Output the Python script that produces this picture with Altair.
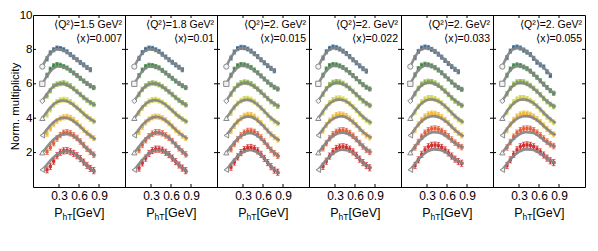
import altair as alt
import pandas as pd

# ---------------- data ----------------
SERIES = ["s7", "s6", "s5", "s4", "s3", "s2", "s1"]
COLORS = ["#35658f", "#3a8a3e", "#84b23a", "#d0d243", "#efb838", "#e45e38", "#d22f2f"]
SHAPES = ["circle", "square", "diamond", "triangle-up", "triangle-left", "triangle-up", "triangle-left"]
ERR = [0.12, 0.12, 0.13, 0.14, 0.15, 0.16, 0.18]

Q2_VALUES = ["1.5", "1.8", "2.", "2.", "2.", "2."]
X_VALUES = ["0.007", "0.01", "0.015", "0.022", "0.033", "0.055"]

X_TICKS = [0.3, 0.6, 0.9]
Y_TICKS = [2, 4, 6, 8, 10]

# model curve abscissae and data abscissae (P_hT in GeV)
CX = [0.05, 0.1, 0.15, 0.2, 0.25, 0.3, 0.35, 0.4, 0.5, 0.6, 0.7, 0.78, 0.85]
DX = [0.12, 0.17, 0.22, 0.27, 0.32, 0.37, 0.42, 0.47, 0.52, 0.57, 0.62, 0.67, 0.72, 0.77, 0.82]

CURVE_P1 = [
    [7.0, 7.38, 7.68, 7.88, 7.99, 8.02, 7.97, 7.88, 7.6, 7.3, 7.02, 6.78, None],
    [6.0, 6.33, 6.62, 6.84, 6.97, 7.02, 7.0, 6.93, 6.68, 6.38, 6.08, 5.88, 5.74],
    [5.0, 5.3, 5.57, 5.78, 5.92, 5.99, 6.0, 5.96, 5.74, 5.43, 5.12, 4.9, 4.75],
    [4.0, 4.27, 4.53, 4.74, 4.9, 4.99, 5.03, 5.01, 4.82, 4.5, 4.15, 3.93, 3.77],
    [3.0, 3.25, 3.5, 3.7, 3.86, 3.96, 4.02, 4.03, 3.88, 3.57, 3.2, 2.96, 2.76],
    [2.0, 2.24, 2.48, 2.69, 2.86, 2.98, 3.06, 3.1, 3.0, 2.7, 2.3, 2.02, 1.8],
    [1.0, 1.22, 1.45, 1.66, 1.83, 1.96, 2.04, 2.08, 2.0, 1.72, 1.32, 1.05, 0.86],
]
DATA_P1 = [
    [7.45, 7.8, 7.98, 8.08, 8.05, 7.98, 7.86, 7.7, 7.55, 7.4, 7.24, 7.1, 6.95, 6.82, None],
    [6.5, 6.85, 7.05, 7.12, 7.08, 7.0, 6.92, 6.78, 6.63, 6.48, 6.32, 6.16, 6.02, 5.88, 5.78],
    [5.3, 5.6, 5.88, 5.98, 6.02, 6.05, 5.98, 5.88, 5.72, 5.55, 5.38, 5.2, 5.05, 4.9, 4.8],
    [4.2, 4.5, 4.78, 4.95, 5.05, 5.08, 5.05, 4.95, 4.8, 4.62, 4.45, 4.27, 4.1, 3.95, 3.82],
    [3.1, 3.4, 3.65, 3.85, 3.98, 4.05, 4.08, 4.02, 3.9, 3.72, 3.52, 3.33, 3.14, 2.98, 2.84],
    [2.05, 2.3, 2.55, 2.82, 3.02, 3.15, 3.18, 3.12, 3.0, 2.85, 2.65, 2.44, 2.22, 2.05, 1.88],
    [1.0, 1.2, 1.5, 1.82, 2.02, 2.1, 2.12, 2.05, 1.95, 1.82, 1.65, 1.45, 1.25, 1.08, 0.95],
]

CURVE_P2 = [
    [7.0, 7.38, 7.68, 7.88, 7.99, 8.03, 7.98, 7.89, 7.6, 7.3, 7.02, 6.78, None],
    [6.0, 6.33, 6.63, 6.85, 6.98, 7.03, 7.01, 6.94, 6.68, 6.38, 6.08, 5.88, 5.74],
    [5.0, 5.3, 5.58, 5.79, 5.93, 6.0, 6.01, 5.97, 5.75, 5.43, 5.1, 4.88, 4.72],
    [4.0, 4.28, 4.55, 4.76, 4.92, 5.01, 5.05, 5.03, 4.84, 4.51, 4.15, 3.93, 3.77],
    [3.0, 3.26, 3.52, 3.73, 3.89, 4.0, 4.06, 4.07, 3.92, 3.6, 3.22, 2.98, 2.8],
    [2.0, 2.25, 2.5, 2.72, 2.9, 3.03, 3.11, 3.14, 3.04, 2.74, 2.34, 2.04, 1.8],
    [1.0, 1.24, 1.49, 1.71, 1.89, 2.03, 2.11, 2.14, 2.05, 1.76, 1.36, 1.07, 0.85],
]
DATA_P2 = [
    [7.48, 7.82, 8.0, 8.08, 8.06, 7.98, 7.88, 7.72, 7.56, 7.4, 7.25, 7.1, 6.96, 6.82, None],
    [6.48, 6.8, 7.0, 7.08, 7.06, 7.0, 6.93, 6.78, 6.63, 6.47, 6.32, 6.16, 6.02, 5.89, 5.78],
    [5.38, 5.68, 5.88, 6.0, 6.05, 6.02, 5.95, 5.84, 5.7, 5.54, 5.38, 5.2, 5.04, 4.9, 4.78],
    [4.3, 4.6, 4.82, 4.98, 5.06, 5.08, 5.02, 4.92, 4.78, 4.62, 4.44, 4.26, 4.1, 3.95, 3.82],
    [3.2, 3.5, 3.75, 3.93, 4.05, 4.1, 4.08, 4.0, 3.88, 3.7, 3.52, 3.33, 3.15, 2.99, 2.85],
    [2.15, 2.45, 2.72, 2.95, 3.1, 3.18, 3.18, 3.12, 3.0, 2.86, 2.67, 2.46, 2.25, 2.06, 1.9],
    [1.1, 1.4, 1.68, 1.95, 2.12, 2.2, 2.2, 2.14, 2.02, 1.88, 1.68, 1.48, 1.28, 1.1, 0.95],
]

CURVE_P3 = [
    [7.0, 7.4, 7.72, 7.93, 8.05, 8.1, 8.06, 7.95, 7.64, 7.3, 6.98, 6.72, None],
    [6.0, 6.35, 6.66, 6.88, 7.01, 7.06, 7.04, 6.96, 6.68, 6.35, 6.02, 5.8, 5.67],
    [5.0, 5.31, 5.6, 5.82, 5.96, 6.03, 6.04, 5.99, 5.75, 5.4, 5.05, 4.82, 4.68],
    [4.0, 4.28, 4.56, 4.78, 4.94, 5.03, 5.07, 5.05, 4.84, 4.48, 4.08, 3.83, 3.66],
    [3.0, 3.26, 3.52, 3.74, 3.91, 4.02, 4.08, 4.09, 3.92, 3.57, 3.15, 2.88, 2.7],
    [2.0, 2.25, 2.5, 2.72, 2.9, 3.03, 3.11, 3.14, 3.02, 2.7, 2.26, 1.96, 1.74],
    [1.0, 1.24, 1.49, 1.71, 1.89, 2.03, 2.11, 2.15, 2.05, 1.74, 1.28, 0.98, 0.78],
]
DATA_P3 = [
    [7.5, 7.85, 8.05, 8.12, 8.1, 8.02, 7.9, 7.75, 7.58, 7.4, 7.22, 7.05, 6.9, 6.76, None],
    [6.5, 6.85, 7.05, 7.12, 7.1, 7.04, 6.95, 6.8, 6.64, 6.46, 6.28, 6.1, 5.94, 5.8, 5.7],
    [5.4, 5.7, 5.92, 6.05, 6.1, 6.08, 6.0, 5.86, 5.7, 5.52, 5.33, 5.14, 4.96, 4.82, 4.7],
    [4.3, 4.62, 4.86, 5.02, 5.12, 5.14, 5.08, 4.96, 4.8, 4.6, 4.4, 4.18, 3.98, 3.82, 3.7],
    [3.25, 3.55, 3.8, 4.0, 4.14, 4.2, 4.18, 4.08, 3.92, 3.72, 3.5, 3.28, 3.06, 2.9, 2.76],
    [2.2, 2.5, 2.78, 3.0, 3.16, 3.25, 3.26, 3.2, 3.06, 2.88, 2.64, 2.4, 2.16, 1.96, 1.82],
    [1.15, 1.45, 1.75, 2.0, 2.18, 2.28, 2.3, 2.24, 2.1, 1.9, 1.66, 1.42, 1.18, 0.98, 0.86],
]

CURVE_P4 = [
    [7.0, 7.4, 7.72, 7.93, 8.05, 8.1, 8.06, 7.96, 7.65, 7.3, 6.97, 6.7, None],
    [6.0, 6.35, 6.66, 6.88, 7.01, 7.06, 7.04, 6.97, 6.7, 6.36, 6.02, 5.8, 5.66],
    [5.0, 5.31, 5.6, 5.82, 5.96, 6.03, 6.05, 6.01, 5.79, 5.45, 5.1, 4.86, 4.7],
    [4.0, 4.28, 4.56, 4.78, 4.94, 5.04, 5.08, 5.07, 4.9, 4.56, 4.16, 3.9, 3.72],
    [3.0, 3.26, 3.52, 3.74, 3.91, 4.02, 4.09, 4.11, 3.98, 3.68, 3.28, 3.02, 2.85],
    [2.0, 2.25, 2.5, 2.72, 2.9, 3.03, 3.12, 3.16, 3.08, 2.82, 2.44, 2.16, 2.0],
    [1.0, 1.24, 1.49, 1.71, 1.89, 2.03, 2.12, 2.17, 2.12, 1.88, 1.5, 1.24, 1.1],
]
DATA_P4 = [
    [7.5, 7.86, 8.06, 8.14, 8.1, 8.02, 7.9, 7.76, 7.58, 7.4, 7.22, 7.04, 6.88, 6.74, None],
    [6.5, 6.86, 7.06, 7.12, 7.1, 7.04, 6.95, 6.81, 6.65, 6.48, 6.3, 6.12, 5.95, 5.8, 5.7],
    [5.4, 5.72, 5.95, 6.08, 6.12, 6.1, 6.02, 5.9, 5.74, 5.56, 5.37, 5.18, 5.0, 4.85, 4.74],
    [4.32, 4.64, 4.9, 5.06, 5.15, 5.16, 5.1, 5.0, 4.85, 4.66, 4.46, 4.25, 4.05, 3.88, 3.76],
    [3.28, 3.6, 3.86, 4.05, 4.18, 4.22, 4.2, 4.12, 3.98, 3.8, 3.6, 3.38, 3.18, 3.0, 2.88],
    [2.25, 2.55, 2.84, 3.06, 3.2, 3.28, 3.3, 3.25, 3.14, 2.98, 2.78, 2.56, 2.35, 2.16, 2.04],
    [1.2, 1.5, 1.8, 2.06, 2.24, 2.32, 2.34, 2.3, 2.2, 2.04, 1.84, 1.62, 1.42, 1.25, 1.12],
]

CURVE_P5 = [
    [7.0, 7.42, 7.75, 7.96, 8.07, 8.1, 8.05, 7.95, 7.63, 7.28, 6.94, 6.66, None],
    [6.0, 6.36, 6.68, 6.9, 7.03, 7.07, 7.05, 6.98, 6.7, 6.36, 6.01, 5.78, 5.64],
    [5.0, 5.32, 5.62, 5.84, 5.98, 6.05, 6.06, 6.02, 5.8, 5.46, 5.1, 4.86, 4.7],
    [4.0, 4.29, 4.57, 4.79, 4.95, 5.05, 5.09, 5.08, 4.92, 4.6, 4.2, 3.93, 3.75],
    [3.0, 3.27, 3.53, 3.75, 3.92, 4.03, 4.1, 4.12, 4.02, 3.76, 3.38, 3.12, 2.95],
    [2.0, 2.26, 2.51, 2.73, 2.91, 3.05, 3.14, 3.18, 3.14, 2.92, 2.6, 2.4, 2.3],
    [1.0, 1.25, 1.5, 1.72, 1.9, 2.05, 2.14, 2.19, 2.16, 1.98, 1.68, 1.48, 1.35],
]
DATA_P5 = [
    [7.52, 7.88, 8.08, 8.14, 8.1, 8.0, 7.88, 7.72, 7.55, 7.36, 7.18, 7.0, 6.84, 6.7, None],
    [6.52, 6.88, 7.08, 7.14, 7.1, 7.04, 6.94, 6.8, 6.64, 6.46, 6.28, 6.1, 5.92, 5.78, 5.68],
    [5.42, 5.74, 5.98, 6.1, 6.14, 6.12, 6.04, 5.92, 5.76, 5.58, 5.38, 5.18, 5.0, 4.86, 4.74],
    [4.35, 4.68, 4.94, 5.1, 5.18, 5.18, 5.12, 5.02, 4.88, 4.7, 4.5, 4.3, 4.1, 3.92, 3.8],
    [3.3, 3.64, 3.9, 4.1, 4.22, 4.27, 4.25, 4.18, 4.06, 3.9, 3.72, 3.52, 3.32, 3.14, 3.0],
    [2.3, 2.62, 2.92, 3.15, 3.3, 3.38, 3.4, 3.36, 3.26, 3.12, 2.95, 2.76, 2.58, 2.42, 2.32],
    [1.25, 1.58, 1.9, 2.16, 2.34, 2.42, 2.44, 2.4, 2.3, 2.16, 1.98, 1.8, 1.62, 1.48, 1.38],
]

CURVE_P6 = [
    [7.0, 7.43, 7.77, 7.98, 8.08, 8.1, 8.04, 7.93, 7.58, 7.2, 6.82, 6.5, None],
    [6.0, 6.36, 6.68, 6.9, 7.02, 7.05, 7.02, 6.93, 6.62, 6.24, 5.85, 5.58, 5.42],
    [5.0, 5.32, 5.62, 5.84, 5.98, 6.05, 6.05, 6.0, 5.78, 5.44, 5.06, 4.82, 4.66],
    [4.0, 4.29, 4.57, 4.79, 4.95, 5.05, 5.09, 5.08, 4.92, 4.6, 4.2, 3.92, 3.72],
    [3.0, 3.27, 3.53, 3.75, 3.92, 4.03, 4.1, 4.12, 4.04, 3.8, 3.44, 3.18, 3.03],
    [2.0, 2.26, 2.51, 2.73, 2.91, 3.05, 3.14, 3.18, 3.15, 2.95, 2.64, 2.45, 2.36],
    [1.0, 1.25, 1.5, 1.72, 1.9, 2.05, 2.14, 2.19, 2.17, 2.0, 1.72, 1.52, 1.39],
]
DATA_P6 = [
    [7.52, 7.9, 8.1, 8.14, 8.08, 7.96, 7.84, 7.7, 7.48, 7.25, 7.1, 6.98, 6.7, 6.48, None],
    [6.5, 6.86, 7.05, 7.1, 7.06, 6.98, 6.88, 6.74, 6.56, 6.38, 6.18, 5.98, 5.78, 5.6, 5.45],
    [5.42, 5.74, 5.98, 6.1, 6.12, 6.1, 6.02, 5.9, 5.74, 5.56, 5.36, 5.15, 4.96, 4.8, 4.68],
    [4.35, 4.68, 4.94, 5.1, 5.18, 5.18, 5.12, 5.02, 4.88, 4.7, 4.5, 4.28, 4.08, 3.9, 3.76],
    [3.3, 3.64, 3.9, 4.1, 4.22, 4.27, 4.26, 4.2, 4.1, 3.95, 3.78, 3.58, 3.38, 3.2, 3.06],
    [2.3, 2.62, 2.92, 3.15, 3.3, 3.38, 3.4, 3.38, 3.3, 3.16, 3.0, 2.82, 2.64, 2.48, 2.38],
    [1.25, 1.58, 1.9, 2.16, 2.34, 2.42, 2.45, 2.42, 2.34, 2.2, 2.04, 1.86, 1.68, 1.52, 1.42],
]

CURVES = [CURVE_P1, CURVE_P2, CURVE_P3, CURVE_P4, CURVE_P5, CURVE_P6]
DATAS = [DATA_P1, DATA_P2, DATA_P3, DATA_P4, DATA_P5, DATA_P6]

# ---------------- chart ----------------
FONT = "Liberation Sans"
W, H = 92, 172
XDOM = [-0.09, 1.29]
YDOM = [0, 10]

color_scale = alt.Scale(domain=SERIES, range=COLORS)
shape_scale = alt.Scale(domain=SERIES, range=SHAPES)
xscale = alt.Scale(domain=XDOM, nice=False, zero=False)
yscale = alt.Scale(domain=YDOM, nice=False, zero=False)


def make_panel(k):
    curves = CURVES[k]
    datas = DATAS[k]
    crows, drows, srows = [], [], []
    for i, vals in enumerate(curves):
        for j, v in enumerate(vals):
            if v is not None:
                crows.append({"series": SERIES[i], "x": CX[j], "y": v})
        srows.append({"series": SERIES[i], "x": CX[0], "y": vals[0]})
    for i, vals in enumerate(datas):
        for j, v in enumerate(vals):
            if v is not None:
                drows.append({"series": SERIES[i], "x": DX[j], "y": v,
                              "lo": v - ERR[i], "hi": v + ERR[i]})
    dc, dd, ds = pd.DataFrame(crows), pd.DataFrame(drows), pd.DataFrame(srows)

    xaxis = alt.Axis(values=X_TICKS, format=".1f", labelFontSize=12, labelFont=FONT,
                     labelColor="black", tickSize=0, labelPadding=3, domain=False,
                     grid=False, title=None, labelFlush=False, minExtent=0)
    if k == 0:
        yaxis = alt.Axis(values=Y_TICKS, format="d", labelFontSize=11.5, labelFont=FONT,
                         labelColor="black", tickSize=0, labelPadding=1, domain=False,
                         grid=False, title="Norm. multiplicity", titleFontSize=11.5,
                         titleFont=FONT, titleFontWeight="normal", titleColor="black",
                         titleX=-13, titleY=91, titleAngle=270, titleBaseline="bottom",
                         titleAlign="center", labelFlush=False, minExtent=0)
    else:
        yaxis = None

    def xe(f):
        return alt.X(f + ":Q", scale=xscale, axis=xaxis)

    def ye(f):
        return alt.Y(f + ":Q", scale=yscale, axis=yaxis)

    C = alt.Color("series:N", scale=color_scale, legend=None)

    err = alt.Chart(dd).mark_rule(strokeWidth=1.2).encode(
        x=xe("x"), y=ye("lo"), y2="hi:Q", color=C)
    cap_lo = alt.Chart(dd).mark_tick(orient="horizontal", size=3.5, thickness=1).encode(
        x=xe("x"), y=ye("lo"), color=C)
    cap_hi = alt.Chart(dd).mark_tick(orient="horizontal", size=3.5, thickness=1).encode(
        x=xe("x"), y=ye("hi"), color=C)
    pts = alt.Chart(dd).mark_square(size=10, opacity=1).encode(
        x=xe("x"), y=ye("y"), color=C)
    lines = alt.Chart(dc).mark_line(color="#858585", strokeWidth=2.6, interpolate="monotone",
                                    opacity=0.92).encode(
        x=xe("x"), y=ye("y"), detail="series:N")
    starts = alt.Chart(ds).mark_point(filled=True, fill="#f2f2f2", stroke="#8a8a8a",
                                      strokeWidth=1, size=28, opacity=1).encode(
        x=xe("x"), y=ye("y"),
        shape=alt.Shape("series:N", scale=shape_scale, legend=None))

    tx = pd.DataFrame({"x": X_TICKS})
    ty = pd.DataFrame({"y": Y_TICKS[:-1]})
    tick_b = alt.Chart(tx).mark_rule(color="black", strokeWidth=1).encode(
        x=xe("x"), y=alt.value(H), y2=alt.value(H - 3))
    tick_t = alt.Chart(tx).mark_rule(color="black", strokeWidth=1).encode(
        x=xe("x"), y=alt.value(0), y2=alt.value(3))
    tick_l = alt.Chart(ty).mark_rule(color="black", strokeWidth=1).encode(
        y=ye("y"), x=alt.value(0), x2=alt.value(3))
    tick_r = alt.Chart(ty).mark_rule(color="black", strokeWidth=1).encode(
        y=ye("y"), x=alt.value(W), x2=alt.value(W - 3))

    lab = pd.DataFrame({"t1": ["\u27e8Q\u00b2\u27e9=" + Q2_VALUES[k] + " GeV\u00b2"],
                        "t2": ["\u27e8x\u27e9=" + X_VALUES[k]],
                        "a": ["P"], "b": ["hT"], "c": ["[GeV]"]})
    txt1 = alt.Chart(lab).mark_text(align="right", baseline="alphabetic", fontSize=10.5,
                                    font=FONT, color="black").encode(
        x=alt.value(W - 3), y=alt.value(12.5), text="t1:N")
    txt2 = alt.Chart(lab).mark_text(align="right", baseline="alphabetic", fontSize=10.5,
                                    font=FONT, color="black").encode(
        x=alt.value(W - 3), y=alt.value(27), text="t2:N")
    xt1 = alt.Chart(lab).mark_text(align="left", baseline="alphabetic", fontSize=12.5,
                                   font=FONT, color="black").encode(
        x=alt.value(21.3), y=alt.value(201.5), text="a:N")
    xt2 = alt.Chart(lab).mark_text(align="left", baseline="alphabetic", fontSize=8.5,
                                   font=FONT, color="black").encode(
        x=alt.value(29.6), y=alt.value(204.5), text="b:N")
    xt3 = alt.Chart(lab).mark_text(align="left", baseline="alphabetic", fontSize=12.5,
                                   font=FONT, color="black").encode(
        x=alt.value(39.5), y=alt.value(201.5), text="c:N")

    return alt.layer(err, cap_lo, cap_hi, pts, lines, starts,
                     tick_b, tick_t, tick_l, tick_r, txt1, txt2, xt1, xt2, xt3).properties(
        width=W, height=H)


chart = alt.hconcat(*[make_panel(k) for k in range(6)], spacing=0, bounds="flush").properties(
    padding={"left": 0, "top": 0, "right": 0, "bottom": 0}
).configure_view(stroke="black", strokeWidth=1)

chart.save("out.html", embed_options={"renderer": "svg", "actions": False})
